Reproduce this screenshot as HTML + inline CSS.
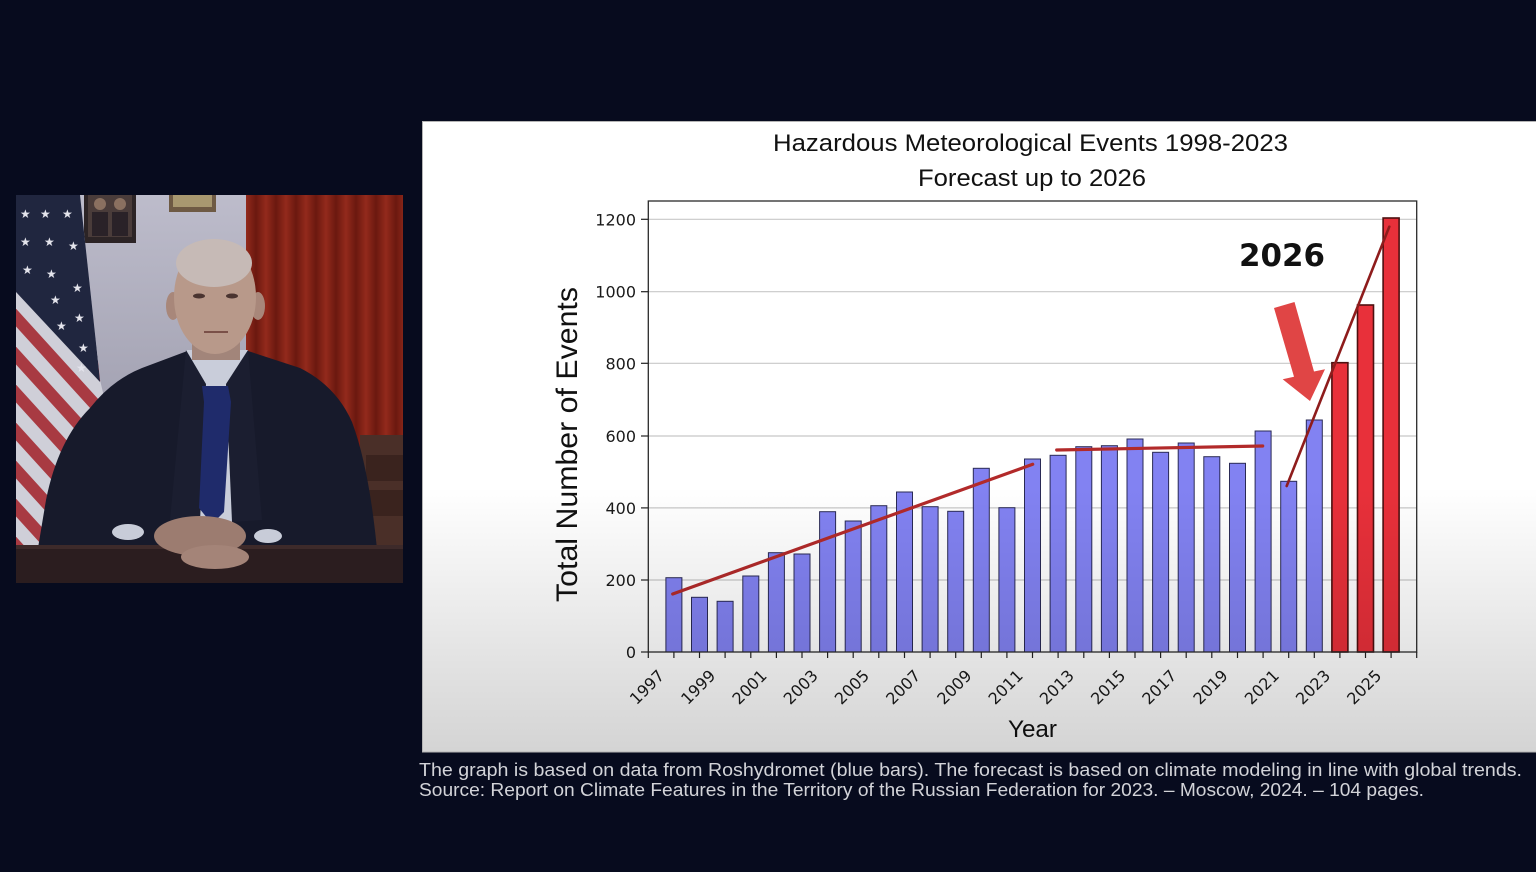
<!DOCTYPE html>
<html>
<head>
<meta charset="utf-8">
<style>
  html,body{margin:0;padding:0;background:#070b1e;}
  body{width:1536px;height:872px;overflow:hidden;}
  svg{display:block;}
  .tk{font-family:"DejaVu Sans",sans-serif;font-size:16px;fill:#1a1a1a;}
  .lb{font-family:"Liberation Sans",sans-serif;fill:#111;}
  .cap{font-family:"Liberation Sans",sans-serif;font-size:18px;fill:#d2d3d8;}
</style>
</head>
<body>
<svg width="1536" height="872" viewBox="0 0 1536 872" xmlns="http://www.w3.org/2000/svg">
  <defs>
    <linearGradient id="shade" gradientUnits="userSpaceOnUse" x1="0" y1="121" x2="0" y2="752">
      <stop offset="0" stop-color="#000" stop-opacity="0"/>
      <stop offset="0.58" stop-color="#000" stop-opacity="0"/>
      <stop offset="1" stop-color="#000" stop-opacity="0.17"/>
    </linearGradient>
    <linearGradient id="wall" x1="0" y1="0" x2="0" y2="1">
      <stop offset="0" stop-color="#bdbccb"/>
      <stop offset="1" stop-color="#8e8d9e"/>
    </linearGradient>
    <linearGradient id="fold" x1="0" y1="0" x2="1" y2="0" spreadMethod="repeat">
      <stop offset="0" stop-color="#a83020"/>
      <stop offset="0.5" stop-color="#7a1c12"/>
      <stop offset="1" stop-color="#a83020"/>
    </linearGradient>
    <pattern id="curt" patternUnits="userSpaceOnUse" x="246" y="0" width="20" height="10">
      <rect width="20" height="10" fill="url(#fold)"/>
    </pattern>
    <clipPath id="vid"><rect x="16" y="195" width="387" height="388"/></clipPath>
    <clipPath id="flagc"><polygon points="16,195 80,195 100,380 112,430 100,545 16,545"/></clipPath>
  </defs>

  <!-- ===== Video frame ===== -->
  <g clip-path="url(#vid)">
    <rect x="16" y="195" width="387" height="388" fill="url(#wall)"/>
    <!-- curtain -->
    <rect x="246" y="195" width="157" height="355" fill="url(#curt)"/>
    <rect x="246" y="195" width="157" height="355" fill="#000" opacity="0.12"/>
    <!-- cabinet -->
    <rect x="360" y="435" width="43" height="112" fill="#4a2f28"/>
    <rect x="366" y="455" width="37" height="26" fill="#3a231e"/>
    <rect x="366" y="490" width="37" height="26" fill="#3a231e"/>
    <!-- portrait -->
    <rect x="84" y="195" width="52" height="48" fill="#2c2426"/>
    <rect x="88" y="195" width="44" height="42" fill="#4a3c3a"/>
    <circle cx="100" cy="204" r="6" fill="#8a7060"/>
    <circle cx="120" cy="204" r="6" fill="#8a7060"/>
    <rect x="92" y="212" width="16" height="24" fill="#2a2228"/>
    <rect x="112" y="212" width="16" height="24" fill="#2a2228"/>
    <!-- plaque -->
    <rect x="169" y="195" width="47" height="17" fill="#6e5a44"/>
    <rect x="173" y="195" width="39" height="12" fill="#a89870"/>
    <!-- flag -->
    <g clip-path="url(#flagc)">
      <rect x="16" y="195" width="100" height="360" fill="#cfcfd8"/>
      <g stroke="#a83a42" stroke-width="12">
        <line x1="0" y1="262" x2="120" y2="394"/>
        <line x1="0" y1="300" x2="120" y2="432"/>
        <line x1="0" y1="338" x2="120" y2="470"/>
        <line x1="0" y1="376" x2="120" y2="508"/>
        <line x1="0" y1="414" x2="120" y2="546"/>
        <line x1="0" y1="452" x2="120" y2="584"/>
        <line x1="0" y1="490" x2="120" y2="622"/>
        <line x1="0" y1="528" x2="120" y2="660"/>
      </g>
      <polygon points="16,195 82,195 100,382 72,352 16,292" fill="#20263f"/>
      <g fill="#e4e4ec" font-family="DejaVu Sans" font-size="12">
        <text x="20" y="218">★</text><text x="40" y="218">★</text><text x="62" y="218">★</text>
        <text x="20" y="246">★</text><text x="44" y="246">★</text><text x="68" y="250">★</text>
        <text x="22" y="274">★</text><text x="46" y="278">★</text><text x="72" y="292">★</text>
        <text x="50" y="304">★</text><text x="74" y="322">★</text><text x="56" y="330">★</text>
        <text x="78" y="352">★</text><text x="76" y="372">★</text>
      </g>
    </g>
    <!-- suit -->
    <path d="M36,560 L46,500 Q58,440 90,408 Q112,380 142,368 L190,350 L215,360 L245,350 L300,368 Q336,386 352,422 Q370,470 378,560 Z" fill="#171a2b"/>
    <!-- shirt -->
    <path d="M186,350 L248,350 L238,400 L232,522 L200,522 L194,400 Z" fill="#c9cdda"/>
    <path d="M186,350 L206,384 L200,522 L170,520 Z" fill="#1b1e30"/>
    <path d="M248,350 L226,384 L232,522 L262,520 Z" fill="#1b1e30"/>
    <!-- tie -->
    <path d="M202,386 L228,386 L231,402 L224,512 L212,524 L199,508 L204,402 Z" fill="#1f2b6b"/>
    <!-- neck & head -->
    <rect x="192" y="330" width="48" height="30" fill="#a2857a"/>
    <ellipse cx="173" cy="306" rx="7" ry="14" fill="#a8877a"/>
    <ellipse cx="258" cy="306" rx="7" ry="14" fill="#a8877a"/>
    <ellipse cx="215" cy="297" rx="41" ry="57" fill="#b8998a"/>
    <ellipse cx="214" cy="263" rx="38" ry="24" fill="#c6bab6"/>
    <ellipse cx="199" cy="296" rx="6" ry="2.5" fill="#4a3430"/>
    <ellipse cx="232" cy="296" rx="6" ry="2.5" fill="#4a3430"/>
    <line x1="204" y1="332" x2="228" y2="332" stroke="#7a5048" stroke-width="2"/>
    <!-- desk -->
    <rect x="16" y="545" width="387" height="40" fill="#2b1d1f"/>
    <rect x="16" y="545" width="387" height="4" fill="#3d2a2a"/>
    <!-- cuffs and hands -->
    <ellipse cx="128" cy="532" rx="16" ry="8" fill="#c8ccd8"/>
    <ellipse cx="268" cy="536" rx="14" ry="7" fill="#c8ccd8"/>
    <ellipse cx="200" cy="536" rx="46" ry="20" fill="#9c7c70"/>
    <ellipse cx="215" cy="557" rx="34" ry="12" fill="#a48478"/>
  </g>

  <!-- ===== Chart panel ===== -->
  <rect x="422" y="121" width="1114" height="631" fill="#ffffff"/>

  <!-- title -->
  <text class="lb" x="773" y="151" font-size="24" textLength="515" lengthAdjust="spacingAndGlyphs">Hazardous Meteorological Events 1998-2023</text>
  <text class="lb" x="918" y="186" font-size="24" textLength="228" lengthAdjust="spacingAndGlyphs">Forecast up to 2026</text>

  <!-- gridlines -->
  <g stroke="#c8c8c8" stroke-width="1.2">
    <line x1="648.3" y1="219.3" x2="1416.7" y2="219.3"/>
    <line x1="648.3" y1="291.7" x2="1416.7" y2="291.7"/>
    <line x1="648.3" y1="363.3" x2="1416.7" y2="363.3"/>
    <line x1="648.3" y1="436" x2="1416.7" y2="436"/>
    <line x1="648.3" y1="507.9" x2="1416.7" y2="507.9"/>
    <line x1="648.3" y1="580" x2="1416.7" y2="580"/>
  </g>

  <!-- bars -->
  <g fill="#8282f2" stroke="#2a2a55" stroke-width="1">
    <rect x="665.9" y="577.7" width="16" height="74.3"/>
    <rect x="691.5" y="597.3" width="16" height="54.7"/>
    <rect x="717.1" y="601.3" width="16" height="50.7"/>
    <rect x="742.8" y="576" width="16" height="76"/>
    <rect x="768.4" y="552.7" width="16" height="99.3"/>
    <rect x="794.0" y="554" width="16" height="98"/>
    <rect x="819.6" y="511.7" width="16" height="140.3"/>
    <rect x="845.2" y="521" width="16" height="131"/>
    <rect x="870.8" y="505.7" width="16" height="146.3"/>
    <rect x="896.5" y="492" width="16" height="160"/>
    <rect x="922.1" y="506.7" width="16" height="145.3"/>
    <rect x="947.7" y="511.3" width="16" height="140.7"/>
    <rect x="973.3" y="468.3" width="16" height="183.7"/>
    <rect x="998.9" y="507.7" width="16" height="144.3"/>
    <rect x="1024.5" y="459" width="16" height="193"/>
    <rect x="1050.1" y="455.3" width="16" height="196.7"/>
    <rect x="1075.8" y="446.7" width="16" height="205.3"/>
    <rect x="1101.4" y="445.7" width="16" height="206.3"/>
    <rect x="1127.0" y="439" width="16" height="213"/>
    <rect x="1152.6" y="452.3" width="16" height="199.7"/>
    <rect x="1178.2" y="443" width="16" height="209"/>
    <rect x="1203.8" y="456.7" width="16" height="195.3"/>
    <rect x="1229.5" y="463.3" width="16" height="188.7"/>
    <rect x="1255.1" y="431" width="16" height="221"/>
    <rect x="1280.7" y="481.3" width="16" height="170.7"/>
    <rect x="1306.3" y="420" width="16" height="232"/>
  </g>
  <g fill="#e8303a" stroke="#4e1010" stroke-width="1.6">
    <rect x="1331.9" y="362.7" width="16" height="289.3"/>
    <rect x="1357.5" y="305" width="16" height="347"/>
    <rect x="1383.1" y="218" width="16" height="434"/>
  </g>

  <!-- trend lines -->
  <g stroke-linecap="round">
    <line x1="672.7" y1="594" x2="1032.7" y2="464.3" stroke="#b22a2a" stroke-width="3.2"/>
    <line x1="1056.7" y1="450" x2="1262.7" y2="446" stroke="#b22a2a" stroke-width="3.2"/>
    <line x1="1286.7" y1="486" x2="1389.3" y2="226.7" stroke="#8e1c1c" stroke-width="2.6"/>
  </g>

  <!-- arrow -->
  <polygon points="1274,308 1294.5,302 1314,371.5 1325,369.3 1310,401 1282.7,379.3 1294,376.7" fill="#e04545"/>

  <!-- 2026 label -->
  <text x="1239" y="266" font-family="DejaVu Sans" font-weight="bold" font-size="31" fill="#111" textLength="86" lengthAdjust="spacingAndGlyphs">2026</text>

  <!-- axes box -->
  <rect x="648.3" y="201" width="768.4" height="451" fill="none" stroke="#2a2a2a" stroke-width="1.3"/>

  <!-- y ticks -->
  <g stroke="#222" stroke-width="1.2">
    <line x1="641" y1="219.3" x2="648.3" y2="219.3"/>
    <line x1="641" y1="291.7" x2="648.3" y2="291.7"/>
    <line x1="641" y1="363.3" x2="648.3" y2="363.3"/>
    <line x1="641" y1="436" x2="648.3" y2="436"/>
    <line x1="641" y1="507.9" x2="648.3" y2="507.9"/>
    <line x1="641" y1="580" x2="648.3" y2="580"/>
    <line x1="641" y1="652" x2="648.3" y2="652"/>
  </g>
  <g class="tk" text-anchor="end">
    <text x="636" y="225.3">1200</text>
    <text x="636" y="297.7">1000</text>
    <text x="636" y="369.3">800</text>
    <text x="636" y="442">600</text>
    <text x="636" y="513.9">400</text>
    <text x="636" y="586">200</text>
    <text x="636" y="658">0</text>
  </g>

  <!-- x ticks -->
  <g stroke="#222" stroke-width="1.2">
    <line x1="648.3" y1="652" x2="648.3" y2="658"/>
    <line x1="673.9" y1="652" x2="673.9" y2="658"/>
    <line x1="699.5" y1="652" x2="699.5" y2="658"/>
    <line x1="725.1" y1="652" x2="725.1" y2="658"/>
    <line x1="750.8" y1="652" x2="750.8" y2="658"/>
    <line x1="776.4" y1="652" x2="776.4" y2="658"/>
    <line x1="802.0" y1="652" x2="802.0" y2="658"/>
    <line x1="827.6" y1="652" x2="827.6" y2="658"/>
    <line x1="853.2" y1="652" x2="853.2" y2="658"/>
    <line x1="878.8" y1="652" x2="878.8" y2="658"/>
    <line x1="904.5" y1="652" x2="904.5" y2="658"/>
    <line x1="930.1" y1="652" x2="930.1" y2="658"/>
    <line x1="955.7" y1="652" x2="955.7" y2="658"/>
    <line x1="981.3" y1="652" x2="981.3" y2="658"/>
    <line x1="1006.9" y1="652" x2="1006.9" y2="658"/>
    <line x1="1032.5" y1="652" x2="1032.5" y2="658"/>
    <line x1="1058.1" y1="652" x2="1058.1" y2="658"/>
    <line x1="1083.8" y1="652" x2="1083.8" y2="658"/>
    <line x1="1109.4" y1="652" x2="1109.4" y2="658"/>
    <line x1="1135.0" y1="652" x2="1135.0" y2="658"/>
    <line x1="1160.6" y1="652" x2="1160.6" y2="658"/>
    <line x1="1186.2" y1="652" x2="1186.2" y2="658"/>
    <line x1="1211.8" y1="652" x2="1211.8" y2="658"/>
    <line x1="1237.5" y1="652" x2="1237.5" y2="658"/>
    <line x1="1263.1" y1="652" x2="1263.1" y2="658"/>
    <line x1="1288.7" y1="652" x2="1288.7" y2="658"/>
    <line x1="1314.3" y1="652" x2="1314.3" y2="658"/>
    <line x1="1339.9" y1="652" x2="1339.9" y2="658"/>
    <line x1="1365.5" y1="652" x2="1365.5" y2="658"/>
    <line x1="1391.1" y1="652" x2="1391.1" y2="658"/>
    <line x1="1416.7" y1="652" x2="1416.7" y2="658"/>
  </g>
  <g class="tk" text-anchor="middle">
    <text transform="translate(646.8,687) rotate(-45)" dy="5.8">1997</text>
    <text transform="translate(698.0,687) rotate(-45)" dy="5.8">1999</text>
    <text transform="translate(749.3,687) rotate(-45)" dy="5.8">2001</text>
    <text transform="translate(800.5,687) rotate(-45)" dy="5.8">2003</text>
    <text transform="translate(851.7,687) rotate(-45)" dy="5.8">2005</text>
    <text transform="translate(903.0,687) rotate(-45)" dy="5.8">2007</text>
    <text transform="translate(954.2,687) rotate(-45)" dy="5.8">2009</text>
    <text transform="translate(1005.4,687) rotate(-45)" dy="5.8">2011</text>
    <text transform="translate(1056.6,687) rotate(-45)" dy="5.8">2013</text>
    <text transform="translate(1107.9,687) rotate(-45)" dy="5.8">2015</text>
    <text transform="translate(1159.1,687) rotate(-45)" dy="5.8">2017</text>
    <text transform="translate(1210.3,687) rotate(-45)" dy="5.8">2019</text>
    <text transform="translate(1261.6,687) rotate(-45)" dy="5.8">2021</text>
    <text transform="translate(1312.8,687) rotate(-45)" dy="5.8">2023</text>
    <text transform="translate(1364.0,687) rotate(-45)" dy="5.8">2025</text>
  </g>

  <!-- axis labels -->
  <text class="lb" x="1008" y="737" font-size="24" textLength="49" lengthAdjust="spacingAndGlyphs">Year</text>
  <text class="lb" transform="translate(577,444.5) rotate(-90)" text-anchor="middle" font-size="30" textLength="315" lengthAdjust="spacingAndGlyphs">Total Number of Events</text>

  <!-- lower shading overlay -->
  <rect x="422" y="121" width="1114" height="631" fill="url(#shade)"/>
  <rect x="422.5" y="121.5" width="1114" height="630.5" fill="none" stroke="#b4b4b4" stroke-width="1"/>

  <!-- caption -->
  <text class="cap" x="419" y="776" textLength="1103" lengthAdjust="spacingAndGlyphs">The graph is based on data from  Roshydromet (blue bars). The forecast is based on climate modeling in line with global trends.</text>
  <text class="cap" x="419" y="796" textLength="1005" lengthAdjust="spacingAndGlyphs">Source: Report on Climate Features in the Territory of the Russian Federation for 2023. – Moscow, 2024. – 104 pages.</text>
</svg>
</body>
</html>
